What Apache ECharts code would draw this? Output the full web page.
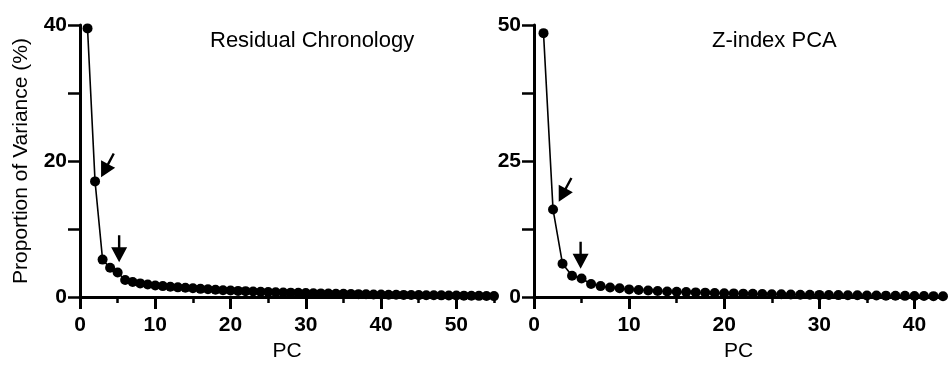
<!DOCTYPE html>
<html>
<head>
<meta charset="utf-8">
<script src="https://cdn.jsdelivr.net/npm/echarts@6/dist/echarts.min.js"></script>
<style>
  html, body { margin: 0; padding: 0; background: #fff; }
  #chart { width: 948px; height: 371px; }
</style>
</head>
<body>
<div id="chart"></div>
<script>
// proportion of variance (%) per PC
const residualVar = [
  39.5, 17.0, 5.5, 4.3, 3.6, 2.5, 2.2, 2.0, 1.85, 1.7,
  1.6, 1.5, 1.42, 1.35, 1.28, 1.2, 1.13, 1.07, 1.0, 0.95,
  0.9, 0.86, 0.82, 0.78, 0.74, 0.7, 0.67, 0.64, 0.61, 0.58,
  0.55, 0.53, 0.5, 0.48, 0.46, 0.44, 0.42, 0.4, 0.38, 0.36,
  0.34, 0.33, 0.31, 0.3, 0.28, 0.27, 0.25, 0.24, 0.22, 0.21,
  0.2, 0.18, 0.17, 0.15, 0.13
];
const zindexVar = [
  48.5, 16.1, 6.1, 3.9, 3.4, 2.4, 2.0, 1.75, 1.6, 1.4,
  1.3, 1.2, 1.1, 1.0, 0.95, 0.9, 0.85, 0.8, 0.75, 0.7,
  0.66, 0.62, 0.58, 0.55, 0.52, 0.49, 0.46, 0.43, 0.41, 0.39,
  0.37, 0.35, 0.33, 0.31, 0.29, 0.27, 0.25, 0.23, 0.21, 0.2,
  0.18, 0.16, 0.14
];

const panelTitles = ["Residual Chronology", "Z-index PCA"];

const leftXMajor = [0, 10, 20, 30, 40, 50];
const leftXMinor = [5, 15, 25, 35, 45, 55];
const rightXMajor = [0, 10, 20, 30, 40];
const rightXMinor = [5, 15, 25, 35];

// arrows: [panel, pc, value at tip, tilt in degrees]
const arrowMarks = [
  [0, 2.8, 17.6, 28],
  [0, 5.2, 5.1, 0],
  [1, 2.6, 17.5, 28],
  [1, 4.9, 5.2, 0]
];

const FONT = "Liberation Sans, Arial, sans-serif";

const toPoints = (vals) => vals.map((v, i) => [i + 1, v]);

function mainX(gridIndex, max, majors) {
  return {
    type: "value", gridIndex, min: 0, max, interval: 10,
    name: "PC", nameLocation: "middle", nameGap: 44,
    nameTextStyle: { fontFamily: FONT, fontSize: 21, color: "#000" },
    axisLine: { lineStyle: { color: "#000", width: 3 } },
    axisTick: { customValues: majors, length: 12, lineStyle: { color: "#000", width: 3 } },
    axisLabel: { customValues: majors, margin: 18, fontFamily: FONT, fontSize: 21, fontWeight: "bold", color: "#000" },
    splitLine: { show: false }
  };
}
function minorX(gridIndex, max, minors) {
  return {
    type: "value", gridIndex, min: 0, max, position: "bottom",
    axisLine: { show: false },
    axisTick: { customValues: minors, length: 6, lineStyle: { color: "#000", width: 2.5 } },
    axisLabel: { show: false },
    splitLine: { show: false }
  };
}
function yAx(gridIndex, max, interval, labelStep, withName) {
  return {
    type: "value", gridIndex, min: 0, max, interval,
    name: withName ? "Proportion of Variance (%)" : "",
    nameLocation: "middle", nameGap: 48,
    nameTextStyle: { fontFamily: FONT, fontSize: 21, color: "#000" },
    axisLine: { show: true, lineStyle: { color: "#000", width: 3 } },
    axisTick: { show: true, length: 12, lineStyle: { color: "#000", width: 2.5 } },
    axisLabel: {
      margin: 13, fontFamily: FONT, fontSize: 21, fontWeight: "bold", color: "#000",
      formatter: (v) => (v % labelStep === 0 ? String(v) : "")
    },
    splitLine: { show: false }
  };
}
function scree(xIdx, yIdx, vals) {
  return {
    type: "line", xAxisIndex: xIdx, yAxisIndex: yIdx, data: toPoints(vals),
    symbol: "circle", symbolSize: 10, showSymbol: true,
    lineStyle: { color: "#000", width: 1.6 },
    itemStyle: { color: "#000" },
    animation: false
  };
}

const chart = echarts.init(document.getElementById("chart"));
chart.setOption({
  animation: false,
  backgroundColor: "#fff",
  title: [
    { text: panelTitles[0], left: 210, top: 30, padding: 0,
      textStyle: { fontFamily: FONT, fontSize: 22, fontWeight: "normal", color: "#000" } },
    { text: panelTitles[1], left: 712, top: 30, padding: 0,
      textStyle: { fontFamily: FONT, fontSize: 22, fontWeight: "normal", color: "#000" } }
  ],
  grid: [
    { left: 80, right: 454, top: 25, bottom: 74 },
    { left: 534, right: 5, top: 25, bottom: 74 }
  ],
  xAxis: [
    mainX(0, 55, leftXMajor),
    mainX(1, 43, rightXMajor),
    minorX(0, 55, leftXMinor),
    minorX(1, 43, rightXMinor)
  ],
  yAxis: [
    yAx(0, 40, 10, 20, true),
    yAx(1, 50, 12.5, 25, false)
  ],
  series: [
    scree(0, 0, residualVar),
    scree(1, 1, zindexVar)
  ]
});

// arrow annotations placed through the grid coordinate systems
const arrowShape = [[0, 0], [-8, -15], [-1.2, -15], [-1.2, -27], [1.2, -27], [1.2, -15], [8, -15]];
chart.setOption({
  graphic: arrowMarks.map(([g, x, y, tilt]) => {
    const p = chart.convertToPixel({ gridIndex: g }, [x, y]);
    return {
      type: "polygon", x: p[0], y: p[1], rotation: -tilt * Math.PI / 180,
      shape: { points: arrowShape }, style: { fill: "#000" }, z: 10
    };
  })
});
</script>
</body>
</html>
